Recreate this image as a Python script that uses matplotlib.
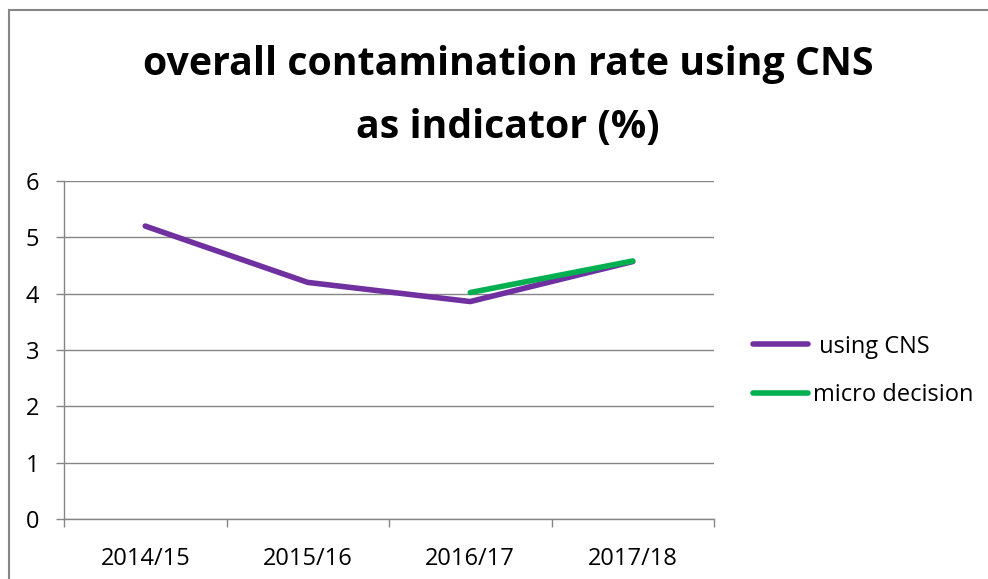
import matplotlib
matplotlib.use("Agg")
import matplotlib.pyplot as plt
from matplotlib.patches import Rectangle

categories = ["2014/15", "2015/16", "2016/17", "2017/18"]
using_cns = [5.2, 4.2, 3.86, 4.57]
micro_x = ["2016/17", "2017/18"]
micro_decision = [4.02, 4.58]
yticks = [0, 1, 2, 3, 4, 5, 6]
title_lines = ["overall contamination rate using CNS", "as indicator (%)"]
series_names = [" using CNS", "micro decision"]

plt.rcParams['font.family'] = ['Open Sans', 'DejaVu Sans']
W, H = 988, 579
fig = plt.figure(figsize=(W / 100, H / 100), dpi=100)
gray = '#868686'

ax = fig.add_axes([64 / W, (H - 519) / H, 650 / W, 338 / H])
xpos = {c: i for i, c in enumerate(categories)}
ax.plot([xpos[c] for c in categories], using_cns, color='#7030A0', lw=4,
        solid_capstyle='round', solid_joinstyle='round', label=series_names[0], zorder=3)
ax.plot([xpos[c] for c in micro_x], micro_decision, color='#00B050', lw=4,
        solid_capstyle='round', solid_joinstyle='round', label=series_names[1], zorder=4)

ax.set_xlim(-0.5, len(categories) - 0.5)
ax.set_ylim(0, 6)
ax.set_yticks(yticks)
ax.set_yticklabels([str(v) for v in yticks])
ax.set_xticks(range(len(categories)))
ax.set_xticklabels(categories)
ax.set_xticks([i - 0.5 for i in range(len(categories) + 1)], minor=True)
ax.tick_params(axis='x', which='major', length=0, pad=20, labelsize=17)
ax.tick_params(axis='x', which='minor', length=6, width=1, color=gray, direction='out')
ax.tick_params(axis='y', length=6, width=1, color=gray, direction='out', pad=12, labelsize=17)
ax.grid(axis='y', color=gray, lw=1)
ax.set_axisbelow(True)
for s in ['top', 'right']:
    ax.spines[s].set_visible(False)
for s in ['left', 'bottom']:
    ax.spines[s].set_color(gray)
    ax.spines[s].set_linewidth(1)

fig.text(508 / W, 1 - 75 / H, title_lines[0], ha='center', va='baseline',
         fontsize=28.3, fontweight='bold')
fig.text(508 / W, 1 - 138 / H, title_lines[1], ha='center', va='baseline',
         fontsize=28.3, fontweight='bold')

leg = ax.legend(loc='center left', bbox_to_anchor=(753 / W, 1 - 371 / H),
                bbox_transform=fig.transFigure, frameon=False, fontsize=17,
                handlelength=2.33, handletextpad=0.2, labelspacing=1.05,
                borderpad=0, borderaxespad=0)

fig.patches.append(Rectangle((9 / W, -0.1), 2, (H - 10) / H + 0.1, transform=fig.transFigure,
                             fill=False, edgecolor=gray, lw=1.5))

fig.savefig('out.png', dpi=100)
